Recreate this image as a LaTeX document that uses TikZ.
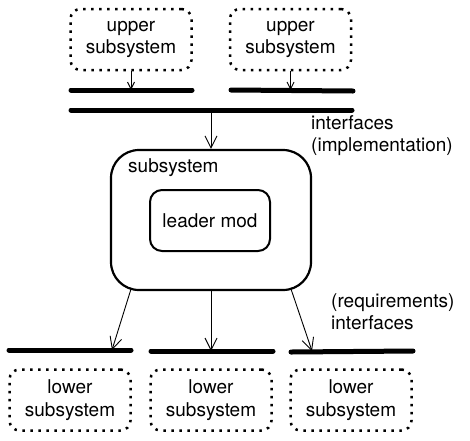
\documentclass[tikz,border=0pt]{standalone}
\usepackage{fontspec}
\setmainfont{TeX Gyre Heros}
\usetikzlibrary{arrows.meta}

\tikzset{
  txt/.style={font=\fontsize{19}{22.5}\selectfont,inner sep=0pt},
  sysbox/.style={txt,draw,line width=2.5pt,dash pattern=on 2.5pt off 5.5pt,
    rounded corners=10pt,minimum width=121pt,minimum height=61pt,align=center},
  modbox/.style={txt,draw,line width=2pt,rounded corners=12pt,
    minimum width=120pt,minimum height=61pt},
  bar/.style={line width=5pt,line cap=round},
  link/.style={line width=0.9pt,-{Straight Barb[length=12pt,width=12pt]}},
  smalllink/.style={line width=0.9pt,-{Straight Barb[length=7pt,width=7pt]}},
}

\begin{document}
\begin{tikzpicture}[x=1pt,y=-1pt]
  \useasboundingbox (0,0) rectangle (470,440);

  % upper subsystems and their interfaces
  \node[sysbox] (up1) at (131,39.5) {upper\\subsystem};
  \node[sysbox] (up2) at (290.5,39.5) {upper\\subsystem};
  \coordinate (ubar1w) at (71,90);  \coordinate (ubar1e) at (192,90);
  \coordinate (ubar2w) at (231,90); \coordinate (ubar2e) at (353,91);
  \draw[bar] (ubar1w) -- (ubar1e);
  \draw[bar] (ubar2w) -- (ubar2e);
  \draw[smalllink] (up1.south) -- (up1.south |- ubar1w);
  \draw[smalllink] (up2.south) -- (up2.south |- ubar2w);

  % implementation interface
  \coordinate (ibarw) at (71,110); \coordinate (ibare) at (352,110);
  \draw[bar] (ibarw) -- (ibare);
  \node[txt,anchor=north west,align=left] (implab) at (311,115)
    {interfaces\\(implementation)};

  % the subsystem
  \node[modbox,line width=2.2pt,rounded corners=28pt,minimum width=200pt,
    minimum height=140pt] (sub) at (211,220) {};
  \node[txt,anchor=base west] (sublab) at (128,172) {subsystem};
  \node[modbox] (lead) at (210,220.5) {leader mod};
  \draw[link] (ibarw -| sub.north) -- (sub.north);

  % requirement interfaces and lower subsystems
  \node[txt,anchor=north west,align=left] (reqlab) at (331,293)
    {(requirements)\\interfaces};
  \coordinate (lbar1w) at (9,350);   \coordinate (lbar1e) at (131,350);
  \coordinate (lbar2w) at (151,351); \coordinate (lbar2e) at (273,351);
  \coordinate (lbar3w) at (291,352); \coordinate (lbar3e) at (413,351);
  \foreach \i in {1,2,3}
    \draw[bar] (lbar\i w) -- (lbar\i e);
  \coordinate (s1) at (131,289); \coordinate (s3) at (291,289);
  \draw[link] (s1) -- (112,350);
  \draw[link] (sub.south) -- (sub.south |- lbar2w);
  \draw[link] (s3) -- (312,351);
  \node[sysbox] (low1) at (70,400)  {lower\\subsystem};
  \node[sysbox] (low2) at (211,400) {lower\\subsystem};
  \node[sysbox] (low3) at (351,400) {lower\\subsystem};

\end{tikzpicture}
\end{document}
